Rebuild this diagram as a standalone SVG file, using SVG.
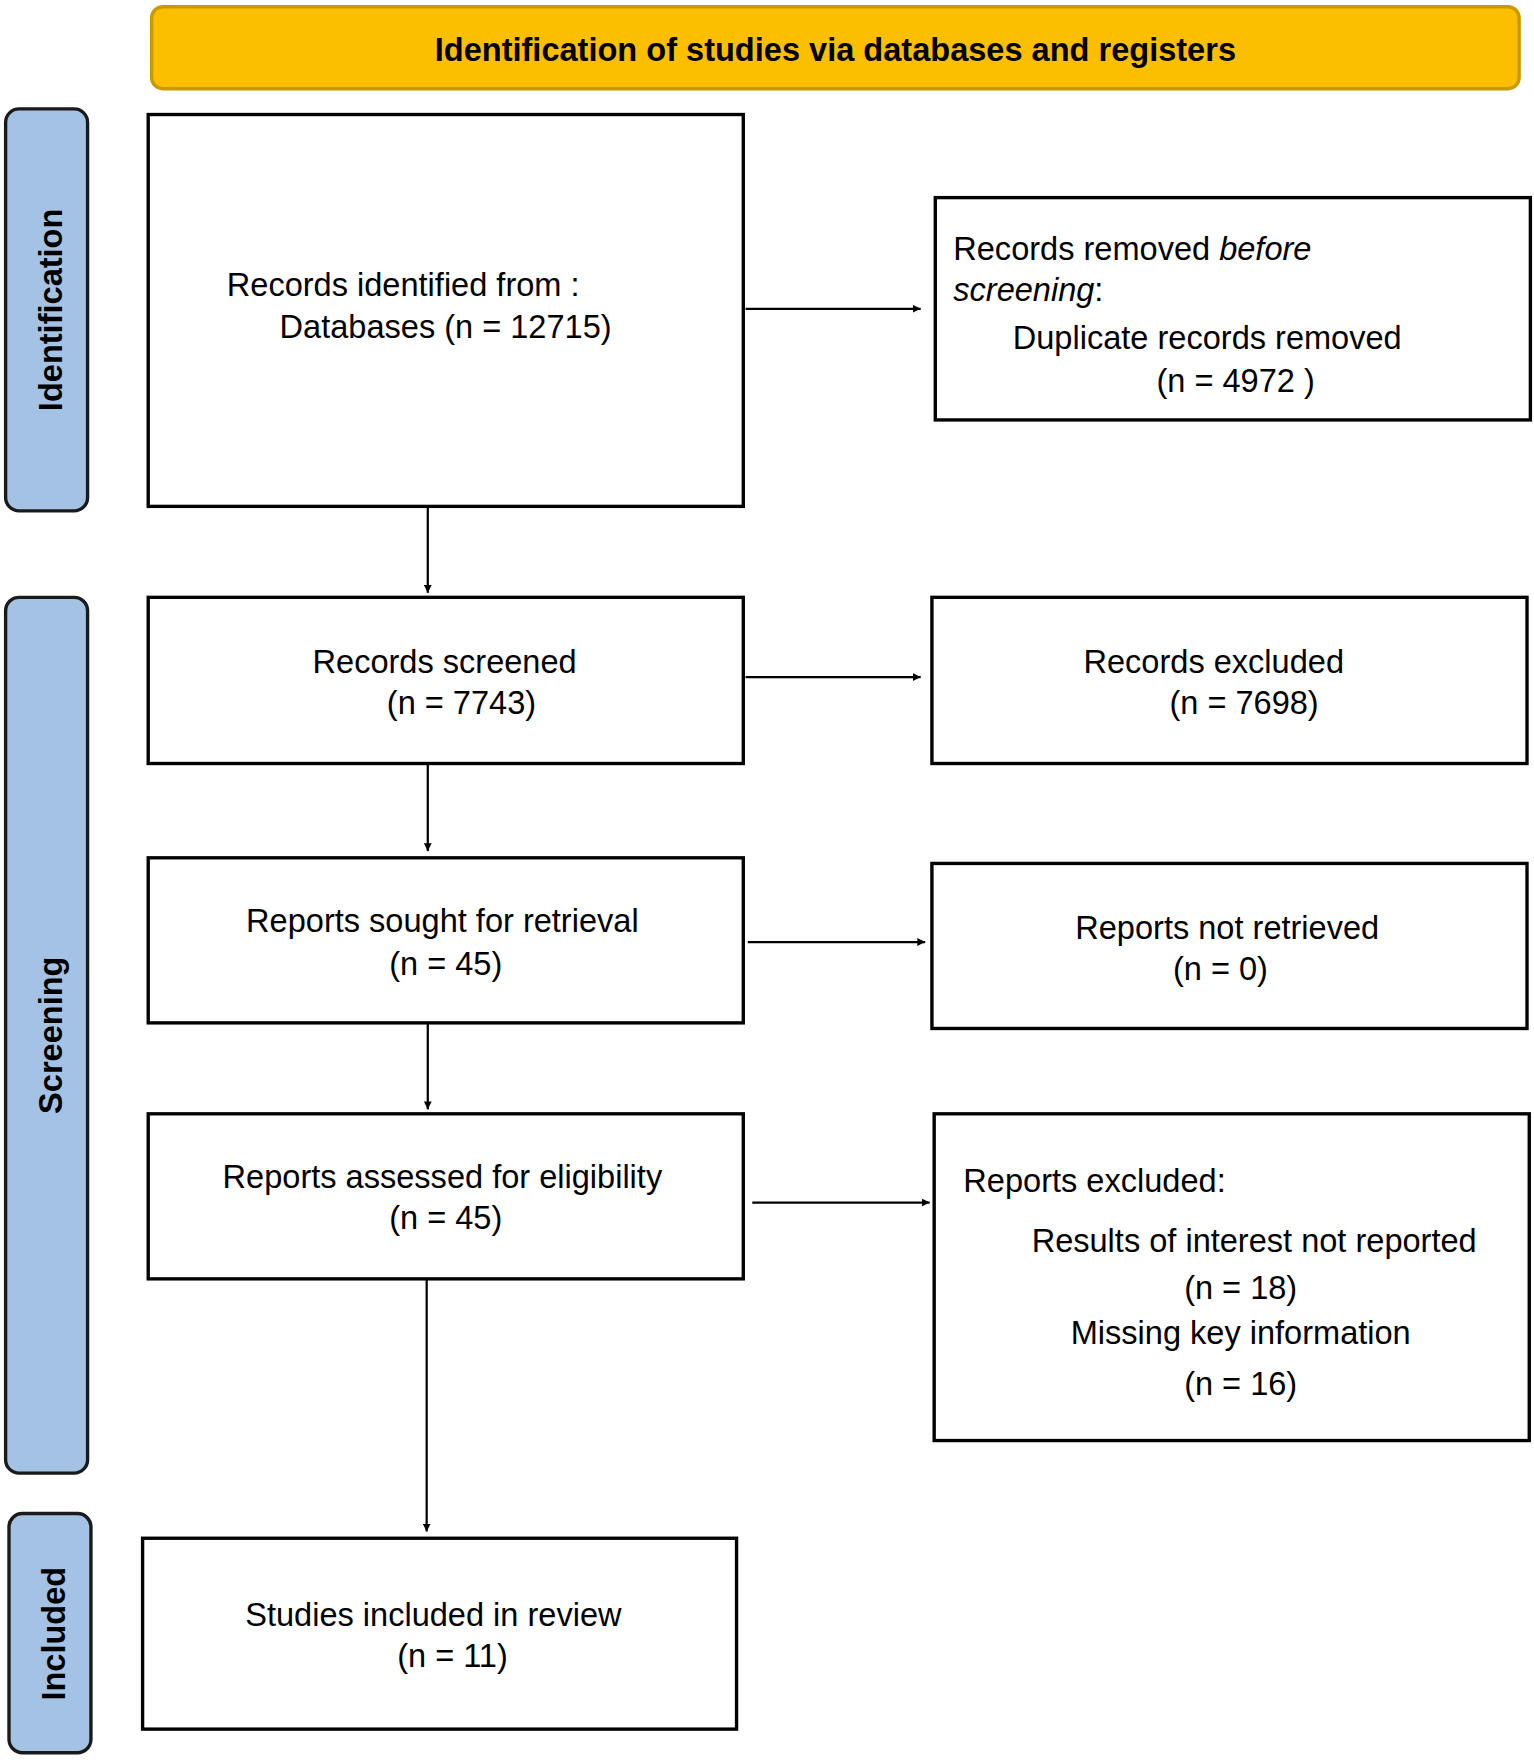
<svg xmlns="http://www.w3.org/2000/svg" width="1534" height="1760" viewBox="0 0 1534 1760">
<style>
.b{fill:#fff;stroke:#000;stroke-width:3}
.s{fill:#a4c2e4;stroke:#1a1a1a;stroke-width:3}
text{font-family:"Liberation Sans",Arial,sans-serif;font-size:29px;fill:#000}
.c{text-anchor:middle}
.v{font-weight:bold;font-size:29px;text-anchor:middle}
.l{stroke:#000;stroke-width:2;fill:none;marker-end:url(#a)}
</style>
<defs><marker id="a" viewBox="0 0 10 10" refX="10" refY="5" markerWidth="7" markerHeight="7" markerUnits="userSpaceOnUse" orient="auto"><path d="M0,0L10,5L0,10z"/></marker></defs>
<rect width="1534" height="1760" fill="#fff"/>
<g transform="scale(1.1228)">
<g id="header"><rect x="135" y="6" width="1218" height="73" rx="10" fill="#fbbf00" stroke="#c99a00" stroke-width="3"/><text class="v" x="744" y="54">Identification of studies via databases and registers</text></g>
<g id="lane-identification"><rect class="s" x="5" y="97" width="73" height="358" rx="12"/><text class="v" transform="translate(55,276) rotate(-90)">Identification</text></g>
<g id="lane-screening"><rect class="s" x="5" y="532" width="73" height="780" rx="12"/><text class="v" transform="translate(55,922) rotate(-90)">Screening</text></g>
<g id="lane-included"><rect class="s" x="8" y="1348" width="73" height="213" rx="12"/><text class="v" transform="translate(58,1455) rotate(-90)">Included</text></g>
<g id="identified"><rect class="b" x="132" y="102" width="530" height="349"/><text x="202" y="264">Records identified from :</text><text x="249" y="301">Databases (n = 12715)</text></g>
<g id="removed"><rect class="b" x="833" y="176" width="530" height="198"/><text x="849" y="232">Records removed <tspan font-style="italic">before</tspan></text><text x="849" y="268"><tspan font-style="italic">screening</tspan>:</text><text x="902" y="311">Duplicate records removed</text><text x="1030" y="349">(n = 4972 )</text></g>
<g id="screened"><rect class="b" x="132" y="532" width="530" height="148"/><text class="c" x="396" y="599">Records screened</text><text class="c" x="411" y="636">(n = 7743)</text></g>
<g id="excluded"><rect class="b" x="830" y="532" width="530" height="148"/><text class="c" x="1081" y="599">Records excluded</text><text class="c" x="1108" y="636">(n = 7698)</text></g>
<g id="sought"><rect class="b" x="132" y="764" width="530" height="147"/><text class="c" x="394" y="830">Reports sought for retrieval</text><text class="c" x="397" y="868">(n = 45)</text></g>
<g id="notretrieved"><rect class="b" x="830" y="769" width="530" height="147"/><text class="c" x="1093" y="836">Reports not retrieved</text><text class="c" x="1087" y="873">(n = 0)</text></g>
<g id="assessed"><rect class="b" x="132" y="992" width="530" height="147"/><text class="c" x="394" y="1058">Reports assessed for eligibility</text><text class="c" x="397" y="1095">(n = 45)</text></g>
<g id="repexcluded"><rect class="b" x="832" y="992" width="530" height="291"/><text x="858" y="1062">Reports excluded:</text><text class="c" x="1117" y="1115">Results of interest not reported</text><text class="c" x="1105" y="1157">(n = 18)</text><text class="c" x="1105" y="1197">Missing key information</text><text class="c" x="1105" y="1242">(n = 16)</text></g>
<g id="included"><rect class="b" x="127" y="1370" width="529" height="170"/><text class="c" x="386" y="1448">Studies included in review</text><text class="c" x="403" y="1485">(n = 11)</text></g>
<g id="connectors">
<path class="l" d="M664,275H820"/><path class="l" d="M381,451V528"/><path class="l" d="M664,603H820"/><path class="l" d="M381,680V758"/><path class="l" d="M666,839H824"/><path class="l" d="M381,911V988"/><path class="l" d="M670,1071H828"/><path class="l" d="M380,1139V1364"/>
</g>
</g>
</svg>
